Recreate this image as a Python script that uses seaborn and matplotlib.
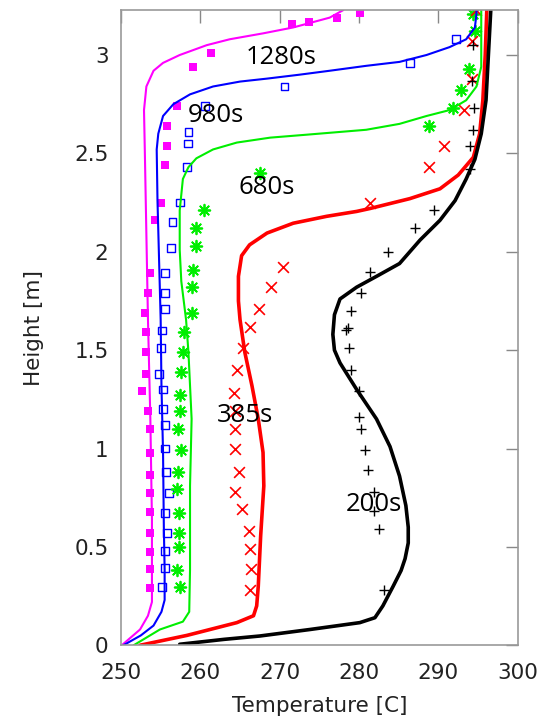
import numpy as np
import pandas as pd
import seaborn as sns
import matplotlib.pyplot as plt

# simulated profiles (lines): temperature [C] vs height [m]
t200_T = [257.4, 263.0, 267.5, 273.8, 280.1, 282.0, 283.0, 284.3, 285.3, 285.8, 286.2, 286.2, 285.9, 285.1,
          283.9, 282.2, 279.7, 277.6, 276.9, 276.7, 276.9, 277.6, 279.7, 282.2, 285.1, 287.7, 290.2, 292.1,
          293.5, 294.6, 295.4, 296.0, 296.3, 296.6]
t200_H = [0.005, 0.03, 0.047, 0.08, 0.115, 0.14, 0.20, 0.30, 0.38, 0.44, 0.52, 0.60, 0.71, 0.86,
          1.01, 1.15, 1.30, 1.435, 1.50, 1.58, 1.68, 1.76, 1.82, 1.875, 1.94, 2.06, 2.16, 2.26,
          2.37, 2.47, 2.60, 2.77, 3.0, 3.228]

t385_T = [252.4, 258.3, 264.6, 266.7, 267.1, 267.3, 267.6, 268.0, 267.9, 267.3, 266.5, 265.6, 265.0, 264.8,
          264.8, 265.2, 266.2, 268.4, 271.7, 275.9, 279.7, 281.4, 286.4, 290.2, 292.5, 294.4, 295.2, 295.6,
          295.9, 296.1]
t385_H = [0.0, 0.05, 0.115, 0.15, 0.20, 0.30, 0.555, 0.81, 0.98, 1.15, 1.32, 1.49, 1.655, 1.75,
          1.875, 1.98, 2.035, 2.095, 2.145, 2.18, 2.205, 2.22, 2.27, 2.32, 2.39, 2.48, 2.60, 2.77,
          3.0, 3.228]

t680_T = [251.6, 254.9, 257.8, 258.6, 258.7, 258.7, 258.9, 258.5, 258.2, 257.6, 257.4, 257.4, 257.8, 258.5,
          259.5, 261.6, 264.6, 268.8, 273.4, 280.9, 285.1, 288.5, 291.4, 293.5, 294.8, 295.4, 295.4, 295.4]
t680_H = [0.0, 0.08, 0.12, 0.17, 0.385, 0.81, 1.15, 1.49, 1.655, 1.85, 2.01, 2.21, 2.37, 2.43,
          2.475, 2.52, 2.555, 2.58, 2.595, 2.62, 2.65, 2.69, 2.72, 2.77, 2.84, 2.94, 3.03, 3.228]

t980_T = [250.3, 252.5, 254.1, 255.1, 255.5, 255.5, 255.4, 255.3, 255.1, 255.0, 254.6, 254.5, 254.7, 255.3,
          256.6, 258.7, 261.6, 265.0, 268.4, 272.5, 276.3, 280.9, 285.1, 288.5, 291.4, 293.5, 294.6, 294.8,
          294.8]
t980_H = [0.0, 0.05, 0.10, 0.17, 0.23, 0.385, 0.6, 0.98, 1.32, 1.655, 2.26, 2.52, 2.60, 2.69,
          2.75, 2.80, 2.84, 2.865, 2.88, 2.90, 2.92, 2.945, 2.965, 3.00, 3.04, 3.08, 3.14, 3.21,
          3.228]

t1280_T = [250.1, 252.4, 253.4, 253.9, 253.9, 253.9, 253.7, 253.4, 253.0, 252.9, 253.2, 254.1, 255.3, 257.4,
           260.8, 263.7, 267.9, 271.7, 276.3, 278.0]
t1280_H = [0.0, 0.08, 0.15, 0.22, 0.385, 0.64, 1.15, 1.655, 2.52, 2.72, 2.84, 2.92, 2.96, 3.00,
           3.05, 3.08, 3.11, 3.14, 3.19, 3.228]

# measurements (markers)
m200_T = [294.4, 294.2, 294.5, 294.4, 294.0, 294.0, 289.5, 287.0, 283.7, 281.4, 280.3, 279.0, 278.6, 278.4,
          278.7, 279.0, 280.0, 280.0, 280.2, 280.8, 281.1, 281.9, 281.9, 282.5, 283.2]
m200_H = [3.05, 2.87, 2.73, 2.62, 2.54, 2.42, 2.21, 2.12, 2.00, 1.895, 1.79, 1.70, 1.61, 1.60,
          1.51, 1.40, 1.29, 1.16, 1.10, 0.99, 0.89, 0.78, 0.68, 0.59, 0.28]

m385_T = [294.8, 294.2, 294.2, 293.2, 290.7, 288.8, 281.4, 270.4, 268.9, 267.4, 266.2, 265.4, 264.6, 264.2,
          264.4, 264.4, 264.4, 264.9, 264.4, 265.3, 266.1, 266.3, 266.4, 266.2]
m385_H = [3.23, 3.07, 2.88, 2.72, 2.54, 2.43, 2.25, 1.92, 1.82, 1.71, 1.62, 1.51, 1.40, 1.28,
          1.19, 1.10, 1.00, 0.88, 0.78, 0.69, 0.58, 0.49, 0.39, 0.28]

m680_T = [294.4, 294.6, 293.9, 292.9, 291.9, 288.8, 267.5, 260.5, 259.5, 259.5, 259.1, 258.9, 258.9, 257.9,
          257.8, 257.6, 257.4, 257.4, 257.2, 257.5, 257.2, 257.1, 257.3, 257.3, 257.3, 257.1, 257.4]
m680_H = [3.21, 3.12, 2.93, 2.82, 2.73, 2.64, 2.40, 2.21, 2.12, 2.03, 1.905, 1.82, 1.69, 1.59,
          1.49, 1.39, 1.27, 1.19, 1.10, 0.99, 0.88, 0.795, 0.67, 0.57, 0.50, 0.38, 0.296]

m980_T = [292.2, 286.4, 270.6, 260.6, 258.5, 258.4, 258.3, 257.4, 256.5, 256.3, 255.6, 255.5, 255.5, 255.2,
          255.0, 254.8, 255.3, 255.3, 255.6, 255.6, 255.7, 256.0, 255.5, 255.8, 255.5, 255.6, 255.2]
m980_H = [3.08, 2.96, 2.84, 2.74, 2.61, 2.55, 2.43, 2.25, 2.15, 2.02, 1.89, 1.79, 1.71, 1.60,
          1.51, 1.38, 1.30, 1.20, 1.12, 1.00, 0.88, 0.775, 0.674, 0.57, 0.48, 0.394, 0.296]

m1280_T = [280.1, 277.2, 273.7, 271.5, 261.4, 259.1, 257.0, 255.8, 255.8, 255.5, 255.0, 254.3, 253.6, 253.4,
           253.0, 253.1, 253.1, 253.1, 252.7, 253.4, 253.6, 253.6, 253.6, 253.7, 253.7, 253.7, 253.7, 253.7,
           253.7]
m1280_H = [3.215, 3.19, 3.17, 3.16, 3.01, 2.94, 2.74, 2.64, 2.54, 2.44, 2.25, 2.16, 1.89, 1.79,
           1.69, 1.59, 1.49, 1.38, 1.29, 1.19, 1.10, 0.975, 0.865, 0.775, 0.677, 0.57, 0.476, 0.386,
           0.29]

labels = ['1280s', '980s', '680s', '385s', '200s']
label_T = [270.2, 262.0, 268.3, 265.6, 281.9]
label_H = [2.985, 2.695, 2.325, 1.17, 0.715]

sns.set_style('white')
plt.rcParams['font.family'] = ['DejaVu Sans']

fig = plt.figure(figsize=(5.45, 7.25), dpi=100)
ax = fig.add_axes([0.222, 0.110, 0.728, 0.876])

# lines
lines = [(t1280_T, t1280_H, '#ff00ff', 1.5),
         (t980_T, t980_H, '#0000ff', 1.5),
         (t680_T, t680_H, '#00ee00', 1.5),
         (t385_T, t385_H, '#ff0000', 2.6),
         (t200_T, t200_H, '#000000', 2.6)]
for T, H, c, lw in lines:
    sns.lineplot(x=T, y=H, sort=False, estimator=None, color=c, linewidth=lw, ax=ax)

# markers
sns.scatterplot(x=m1280_T, y=m1280_H, marker='s', color='#ff00ff', s=30, linewidth=0, ax=ax)
sns.scatterplot(x=m980_T, y=m980_H, marker='s', facecolor='none', edgecolor='#0000ff', s=32, linewidth=1.0, ax=ax)
sns.scatterplot(x=m680_T, y=m680_H, marker=(8, 2, 0), color='#00ee00', s=70, linewidth=1.3, ax=ax)
sns.scatterplot(x=m385_T, y=m385_H, marker='x', color='#ff0000', s=60, linewidth=1.2, ax=ax)
sns.scatterplot(x=m200_T, y=m200_H, marker='+', color='#000000', s=60, linewidth=1.0, ax=ax)

for lab, x, y in zip(labels, label_T, label_H):
    ax.text(x, y, lab, fontsize=18.5, ha='center', va='center', family='Open Sans', color='black')

ax.set_xlim(250, 300)
ax.set_ylim(0, 3.228)
ax.set_xticks([250, 260, 270, 280, 290, 300])
ax.set_yticks([0, 0.5, 1, 1.5, 2, 2.5, 3])
ax.set_yticklabels(['0', '0.5', '1', '1.5', '2', '2.5', '3'])
ax.tick_params(direction='in', length=9, width=1, color='#888888', labelsize=15.5,
               top=True, right=True, labelcolor='#222222')
ax.tick_params(axis='x', pad=13)
ax.tick_params(axis='y', pad=9)
for s in ax.spines.values():
    s.set_color('#999999')
    s.set_linewidth(1.2)
ax.set_xlabel('Temperature [C]', fontsize=15.5, color='#222222', labelpad=9)
ax.set_ylabel('Height [m]', fontsize=15.5, color='#222222', labelpad=22)

fig.savefig('out.png', dpi=100)
